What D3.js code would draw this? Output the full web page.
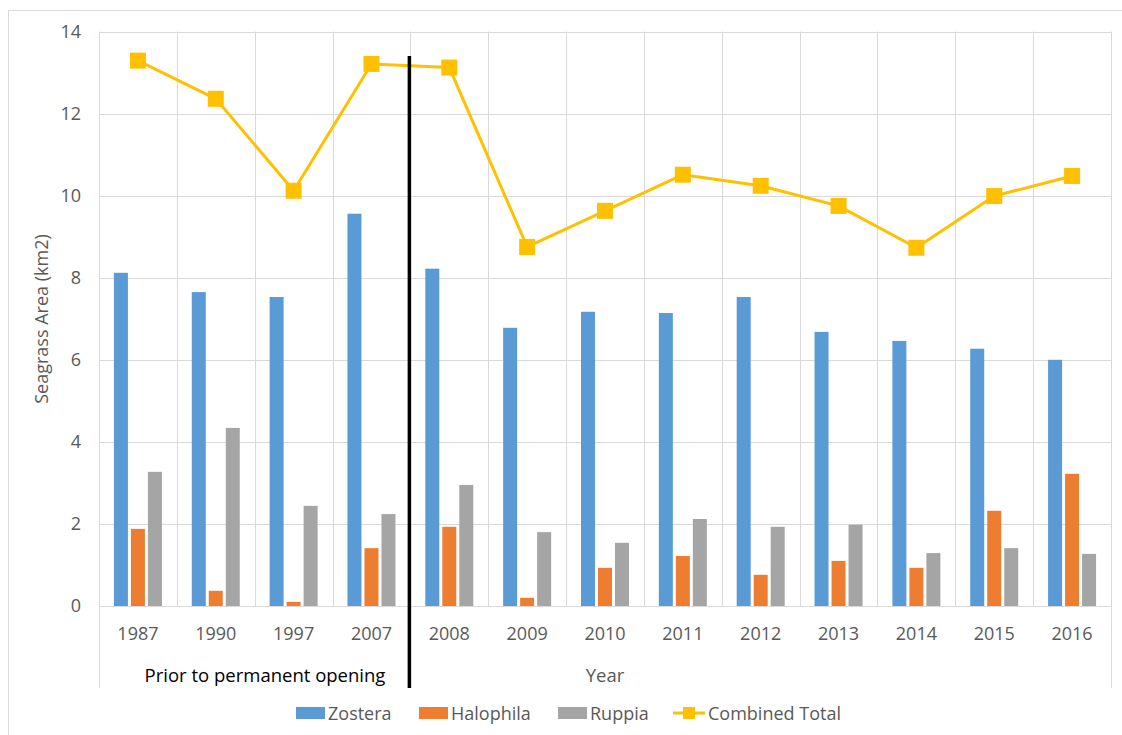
<!DOCTYPE html>
<html>
<head>
<meta charset="utf-8">
<script src="https://cdn.jsdelivr.net/npm/d3@7"></script>
<style>
  body { margin: 0; background: #fff; }
  svg { display: block; font-family: "Open Sans", sans-serif; }
</style>
</head>
<body>
<svg id="canvas"></svg>
<script>
// data
let years = ["1987", "1990", "1997", "2007", "2008", "2009", "2010", "2011", "2012", "2013", "2014", "2015", "2016"];
let zostera = [8.12, 7.65, 7.53, 9.56, 8.22, 6.78, 7.17, 7.14, 7.53, 6.68, 6.46, 6.27, 6.00];
let halophila = [1.88, 0.37, 0.10, 1.41, 1.93, 0.20, 0.93, 1.22, 0.76, 1.10, 0.93, 2.32, 3.22];
let ruppia = [3.27, 4.34, 2.44, 2.24, 2.95, 1.80, 1.54, 2.12, 1.93, 1.98, 1.29, 1.41, 1.27];
let combined = [13.29, 12.36, 10.12, 13.21, 13.12, 8.75, 9.63, 10.51, 10.24, 9.75, 8.73, 9.99, 10.48];
let seriesNames = ["Zostera", "Halophila", "Ruppia"];
let seriesColors = ["#5B9BD5", "#ED7D31", "#A5A5A5"];
let yTicks = [0, 2, 4, 6, 8, 10, 12, 14];

let width = 1122;
let height = 735;
let plotLeft = 99, plotRight = 1111, plotTop = 31.5, plotBottom = 606;
let axisBottomEdge = 688;
let gridColor = "#D9D9D9";
let textColor = "#595959";

let canvas = d3.select("#canvas")
    .attr("width", width)
    .attr("height", height);

// chart border
canvas.append("rect")
    .attr("x", 8.5).attr("y", 10.5)
    .attr("width", 1200).attr("height", 800)
    .attr("fill", "none")
    .attr("stroke", gridColor);

let xScale = d3.scaleBand()
    .domain(years)
    .range([plotLeft, plotRight]);

let xInner = d3.scaleBand()
    .domain(seriesNames)
    .range([-25.5, 25.5])
    .paddingInner(3 / 17)
    .paddingOuter(3 / 34);

let yScale = d3.scaleLinear()
    .domain([0, 14])
    .range([plotBottom, plotTop]);

// horizontal gridlines
canvas.append("g")
    .selectAll("line")
    .data(yTicks)
    .enter()
    .append("line")
    .attr("x1", plotLeft).attr("x2", plotRight)
    .attr("y1", d => Math.round(yScale(d)) + 0.5)
    .attr("y2", d => Math.round(yScale(d)) + 0.5)
    .attr("stroke", gridColor);

// vertical gridlines on category boundaries
let bounds = years.map(y => xScale(y)).concat([plotRight]);
canvas.append("g")
    .selectAll("line")
    .data(bounds)
    .enter()
    .append("line")
    .attr("x1", d => Math.round(d) + 0.5)
    .attr("x2", d => Math.round(d) + 0.5)
    .attr("y1", plotTop)
    .attr("y2", (d, i) => (i === 0 || i === bounds.length - 1) ? axisBottomEdge : plotBottom)
    .attr("stroke", gridColor);

// y axis labels
let yAxis = d3.axisLeft(yScale)
    .tickValues(yTicks)
    .tickSize(0)
    .tickPadding(0);

let yAxisG = canvas.append("g")
    .attr("transform", "translate(81, 0)")
    .call(yAxis);
yAxisG.select(".domain").remove();
yAxisG.selectAll("text")
    .attr("fill", textColor)
    .attr("font-size", "18px")
    .attr("font-family", "Open Sans, sans-serif");

// x axis labels
let xAxis = d3.axisBottom(xScale).tickSize(0).tickPadding(0);
let xAxisG = canvas.append("g")
    .attr("transform", "translate(0, 627)")
    .call(xAxis);
xAxisG.select(".domain").remove();
xAxisG.selectAll("text")
    .attr("fill", textColor)
    .attr("font-size", "18px")
    .attr("font-family", "Open Sans, sans-serif");

// bars
let barData = [];
years.forEach((yr, i) => {
    barData.push({ year: yr, name: "Zostera", value: zostera[i] });
    barData.push({ year: yr, name: "Halophila", value: halophila[i] });
    barData.push({ year: yr, name: "Ruppia", value: ruppia[i] });
});

canvas.append("g")
    .selectAll("rect")
    .data(barData)
    .enter()
    .append("rect")
    .attr("x", d => xScale(d.year) + xScale.bandwidth() / 2 + xInner(d.name))
    .attr("width", xInner.bandwidth())
    .attr("y", d => yScale(d.value))
    .attr("height", d => yScale(0) - yScale(d.value))
    .attr("fill", d => seriesColors[seriesNames.indexOf(d.name)]);

// axis baseline over the bars
canvas.append("line")
    .attr("x1", plotLeft).attr("x2", plotRight)
    .attr("y1", Math.round(yScale(0)) + 0.5)
    .attr("y2", Math.round(yScale(0)) + 0.5)
    .attr("stroke", gridColor);

// combined total line
let line = d3.line()
    .x((d, i) => xScale(years[i]) + xScale.bandwidth() / 2)
    .y(d => yScale(d));

canvas.append("path")
    .datum(combined)
    .attr("d", line)
    .attr("fill", "none")
    .attr("stroke", "#FFC000")
    .attr("stroke-width", 3)
    .attr("stroke-linejoin", "round");

// separator between before / after permanent opening
let sepX = (xScale("2007") + xScale.bandwidth() + xScale("2008")) / 2 - 1;
canvas.append("line")
    .attr("x1", sepX).attr("x2", sepX)
    .attr("y1", 56).attr("y2", axisBottomEdge)
    .attr("stroke", "black")
    .attr("stroke-width", 3.5);

canvas.append("g")
    .selectAll("rect")
    .data(combined)
    .enter()
    .append("rect")
    .attr("x", (d, i) => xScale(years[i]) + xScale.bandwidth() / 2 - 8)
    .attr("y", d => yScale(d) - 8)
    .attr("width", 16)
    .attr("height", 16)
    .attr("fill", "#FFC000");

// group labels under the axis
canvas.append("text")
    .text("Prior to permanent opening")
    .attr("x", 265)
    .attr("y", 682)
    .attr("text-anchor", "middle")
    .attr("font-size", "18.5px")
    .attr("fill", "black");

canvas.append("text")
    .text("Year")
    .attr("x", xScale("2010") + xScale.bandwidth() / 2)
    .attr("y", 682)
    .attr("text-anchor", "middle")
    .attr("font-size", "18.5px")
    .attr("fill", textColor);

// y axis title
canvas.append("text")
    .text("Seagrass Area (km2)")
    .attr("transform", "translate(48, 319) rotate(-90)")
    .attr("text-anchor", "middle")
    .attr("font-size", "18px")
    .attr("fill", textColor);

// legend
let legendItems = [
    { name: "Zostera", x: 296, type: "bar", color: seriesColors[0] },
    { name: "Halophila", x: 419, type: "bar", color: seriesColors[1] },
    { name: "Ruppia", x: 558, type: "bar", color: seriesColors[2] },
    { name: "Combined Total", x: 673, type: "line", color: "#FFC000" }
];
let legendY = 713;
let legend = canvas.append("g");
legendItems.forEach(item => {
    if (item.type === "bar") {
        legend.append("rect")
            .attr("x", item.x).attr("y", legendY - 6)
            .attr("width", 29).attr("height", 12)
            .attr("fill", item.color);
    } else {
        legend.append("line")
            .attr("x1", item.x).attr("x2", item.x + 32)
            .attr("y1", legendY).attr("y2", legendY)
            .attr("stroke", item.color).attr("stroke-width", 3);
        legend.append("rect")
            .attr("x", item.x + 16 - 6).attr("y", legendY - 6)
            .attr("width", 12).attr("height", 12)
            .attr("fill", item.color);
    }
    legend.append("text")
        .text(item.name)
        .attr("x", item.x + (item.type === "bar" ? 32 : 35))
        .attr("y", legendY + 6.5)
        .attr("font-size", "18px")
        .attr("fill", textColor);
});
</script>
</body>
</html>
